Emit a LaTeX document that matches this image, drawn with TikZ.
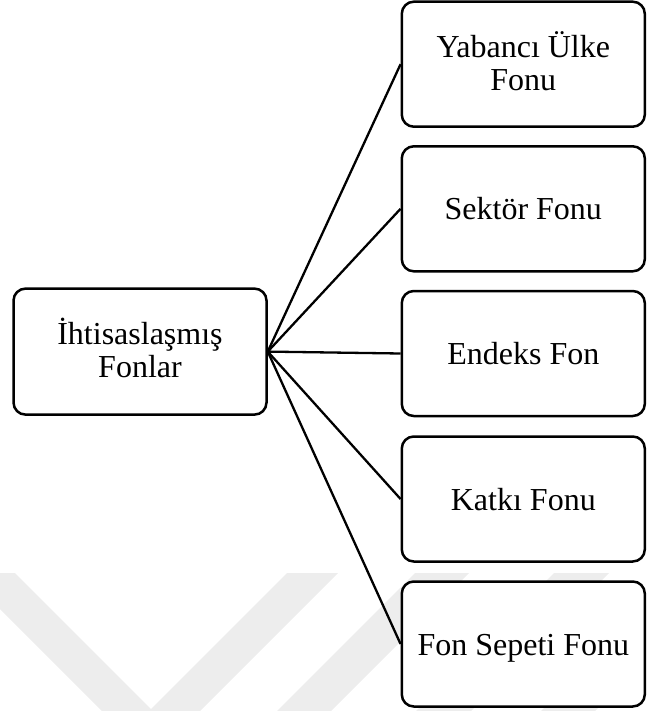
\documentclass[tikz,border=0pt]{standalone}
\usepackage{fontspec}
\newfontfamily\boxfont{Liberation Serif}
\begin{document}
\begin{tikzpicture}[x=1pt,y=-1pt,
  every node/.style={font=\boxfont\fontsize{32}{33}\selectfont},
  fundbox/.style={draw=black, line width=2.5pt, rounded corners=12pt, fill=white,
    minimum width=243pt, minimum height=125pt, inner sep=0pt, align=center,
    text height=22pt, text depth=0pt},
  twoline/.style={text height=55pt, text depth=3pt},
  link/.style={draw=black, line width=2.3pt},
  shade/.style={fill=black!7, draw=none}]
  \useasboundingbox (0,0) rectangle (646,711);
  % faint background chevrons
  \begin{scope}
    \clip (0,573) rectangle (646,711);
    \fill[shade] (-36,573) -- (15,573) -- (151,709) -- (287,573) -- (338,573) -- (151,760) -- cycle;
    \fill[shade] (415,573) -- (469,573) -- (269,773) -- (215,773) -- cycle;
    \fill[shade] (554,573) -- (609,573) -- (409,773) -- (354,773) -- cycle;
    \fill[shade] (679,573) -- (733,573) -- (533,773) -- (479,773) -- cycle;
  \end{scope}
  % root
  \node[fundbox, twoline, minimum width=253pt, minimum height=126pt] (root) at (140,351.6) {İhtisaslaşmış\\Fonlar};
  % fund types
  \node[fundbox, twoline] (f1) at (523.3,64.2) {Yabancı Ülke\\Fonu};
  \node[fundbox] (f2) at (523.3,208.8) {Sektör Fonu};
  \node[fundbox] (f3) at (523.3,353.5) {Endeks Fon};
  \node[fundbox] (f4) at (523.3,499) {Katkı Fonu};
  \node[fundbox] (f5) at (523.3,644) {Fon Sepeti Fonu};
  % connectors
  \foreach \n in {f1,f2,f3,f4,f5}
    \draw[link] (root.east) -- (\n.west);
\end{tikzpicture}
\end{document}
